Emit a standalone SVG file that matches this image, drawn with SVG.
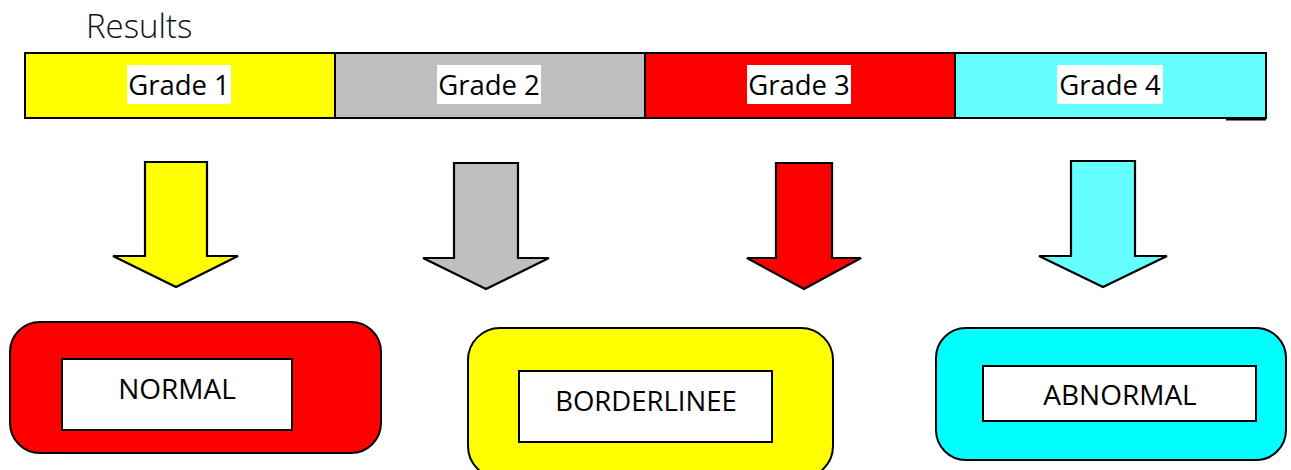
<svg xmlns="http://www.w3.org/2000/svg" width="1291" height="470" viewBox="0 0 1291 470">
  <style>
    .txt { font-family: "Open Sans", "Noto Sans", "Liberation Sans", sans-serif; fill: #000; text-anchor: middle; }
    .title { font-family: "Open Sans", "Noto Sans", "Liberation Sans", sans-serif; font-weight: 300; font-size: 33px; fill: #111; }
    .cell { stroke: #000; stroke-width: 2; }
    .arrow { stroke: #000; stroke-width: 2.2; stroke-linejoin: miter; }
    .outer { stroke: #000; stroke-width: 2; }
    .inner { fill: #fff; stroke: #000; stroke-width: 2; }
    .lblbg { fill: #fff; }
  </style>

  <rect width="1291" height="470" fill="#fff"/>

  <text class="title" x="86" y="38">Results</text>

  <!-- grade bar -->
  <g id="grade-bar">
    <g id="grade1">
      <rect class="cell" x="25" y="53" width="310" height="65" fill="#FFFF00"/>
      <rect class="lblbg" x="127" y="65" width="104" height="39"/>
      <text class="txt" x="179" y="95" font-size="27.5">Grade 1</text>
    </g>
    <g id="grade2">
      <rect class="cell" x="335" y="53" width="310" height="65" fill="#BFBFBF"/>
      <rect class="lblbg" x="437" y="65" width="104" height="39"/>
      <text class="txt" x="489" y="95" font-size="27.5">Grade 2</text>
    </g>
    <g id="grade3">
      <rect class="cell" x="645" y="53" width="310" height="65" fill="#FF0000"/>
      <rect class="lblbg" x="747" y="65" width="104" height="39"/>
      <text class="txt" x="799" y="95" font-size="27.5">Grade 3</text>
    </g>
    <g id="grade4">
      <rect class="cell" x="955" y="53" width="311" height="65" fill="#66FFFF"/>
      <rect class="lblbg" x="1057" y="65" width="106" height="39"/>
      <text class="txt" x="1110" y="95" font-size="27.5">Grade 4</text>
    </g>
    <line x1="1226" y1="119.5" x2="1266" y2="119.5" stroke="#000" stroke-width="2"/>
  </g>

  <!-- block arrows from each grade down to the categories -->
  <g id="connectors">
    <polygon class="arrow" fill="#FFFF00" points="145,162 207,162 207,256 238,256 176,287 113,256 145,256"/>
    <polygon class="arrow" fill="#BFBFBF" points="454,163 518,163 518,258 549,258 486,289 423,258 454,258"/>
    <polygon class="arrow" fill="#FF0000" points="776,163 832,163 832,258 861,258 804,289 747,258 776,258"/>
    <polygon class="arrow" fill="#66FFFF" points="1071,161 1135,161 1135,256 1167,256 1103,287 1039,256 1071,256"/>
  </g>

  <!-- result categories -->
  <g id="normal">
    <rect class="outer" x="10" y="322" width="371" height="131" rx="30" ry="30" fill="#FF0000"/>
    <rect class="inner" x="62" y="359" width="230" height="71"/>
    <text class="txt" x="177" y="399" font-size="28">NORMAL</text>
  </g>
  <g id="borderline">
    <rect class="outer" x="468" y="328" width="365" height="150" rx="32" ry="32" fill="#FFFF00"/>
    <rect class="inner" x="519" y="371" width="253" height="71"/>
    <text class="txt" x="646" y="411" font-size="27.5">BORDERLINEE</text>
  </g>
  <g id="abnormal">
    <rect class="outer" x="936" y="328" width="350" height="132" rx="30" ry="30" fill="#00FFFF"/>
    <rect class="inner" x="983" y="366" width="273" height="55"/>
    <text class="txt" x="1120" y="405" font-size="28">ABNORMAL</text>
  </g>
</svg>
